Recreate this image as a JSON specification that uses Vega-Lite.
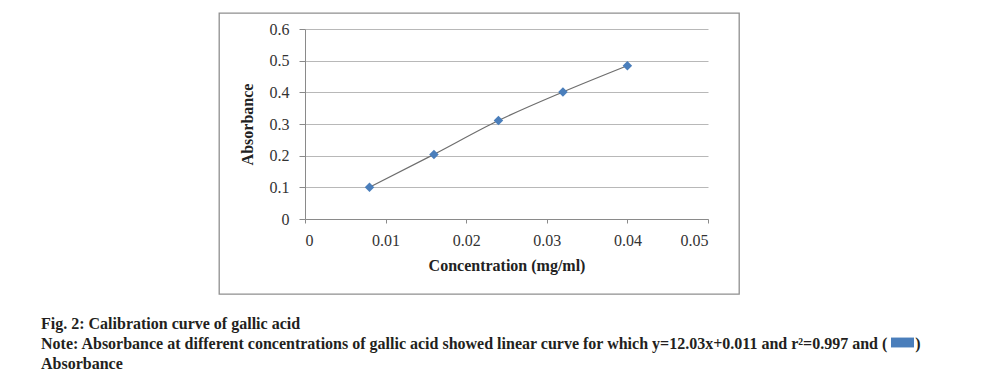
{
  "$schema": "https://vega.github.io/schema/vega-lite/v6.json",
  "width": 520,
  "height": 281,
  "autosize": {"type": "none"},
  "padding": {"left": 219, "top": 13, "right": 248, "bottom": 83},
  "background": "white",
  "data": {
    "values": [
      {"c": 0.008, "a": 0.100, "series": "Absorbance"},
      {"c": 0.016, "a": 0.204, "series": "Absorbance"},
      {"c": 0.024, "a": 0.311, "series": "Absorbance"},
      {"c": 0.032, "a": 0.401, "series": "Absorbance"},
      {"c": 0.040, "a": 0.484, "series": "Absorbance"}
    ]
  },
  "title": {
    "text": [
      "Fig. 2: Calibration curve of gallic acid",
      "Note: Absorbance at different concentrations of gallic acid showed linear curve for which y=12.03x+0.011 and r²=0.997 and (\u00a0\u00a0\u00a0\u00a0\u00a0\u00a0\u00a0)",
      "Absorbance"
    ],
    "orient": "bottom",
    "anchor": "start",
    "frame": "group",
    "baseline": "top",
    "dx": -178,
    "dy": -50,
    "offset": 18,
    "font": "Liberation Serif",
    "fontSize": 16,
    "fontWeight": "bold",
    "color": "#231f20",
    "lineHeight": 20
  },
  "encoding": {
    "x": {
      "field": "c",
      "type": "quantitative",
      "scale": {"domain": [0, 0.05], "range": [86, 489], "nice": false, "zero": false},
      "axis": {
        "title": "Concentration (mg/ml)",
        "values": [0, 0.01, 0.02, 0.03, 0.04, 0.05],
        "format": ".2~f",
        "offset": -75,
        "grid": false,
        "tickSize": 4,
        "labelPadding": 9,
        "titlePadding": 9
      }
    },
    "y": {
      "field": "a",
      "type": "quantitative",
      "scale": {"domain": [0, 0.6], "range": [206, 16], "nice": false, "zero": false},
      "axis": {
        "title": "Absorbance",
        "values": [0, 0.1, 0.2, 0.3, 0.4, 0.5, 0.6],
        "format": ".1~f",
        "offset": -86,
        "grid": true,
        "tickSize": 6,
        "labelPadding": 10,
        "titlePadding": 14
      }
    }
  },
  "layer": [
    {
      "mark": {"type": "line", "interpolate": "monotone", "color": "#6e6e6e", "strokeWidth": 1.2}
    },
    {
      "mark": {"type": "point", "shape": "diamond", "filled": true, "size": 90, "opacity": 1},
      "encoding": {
        "color": {
          "field": "series",
          "type": "nominal",
          "scale": {"range": ["#4a7ebb"]},
          "legend": {
            "orient": "none",
            "legendX": 672,
            "legendY": 318,
            "title": null,
            "labelExpr": "''",
            "padding": 0,
            "symbolType": "M-1,-0.43L1,-0.43L1,0.43L-1,0.43Z",
            "symbolSize": 529,
            "symbolFillColor": "#5b86d9",
            "symbolStrokeWidth": 0,
            "symbolOpacity": 1
          }
        }
      }
    }
  ],
  "config": {
    "view": {"stroke": "#8f8f8f", "strokeWidth": 1.3},
    "axis": {
      "labelFont": "Liberation Serif",
      "labelFontSize": 16,
      "labelColor": "#333333",
      "titleFont": "Liberation Serif",
      "titleFontSize": 16,
      "titleFontWeight": "bold",
      "titleColor": "#222222",
      "domainColor": "#8a8a8a",
      "tickColor": "#8a8a8a",
      "gridColor": "#b8b8b8",
      "gridWidth": 1
    }
  }
}
